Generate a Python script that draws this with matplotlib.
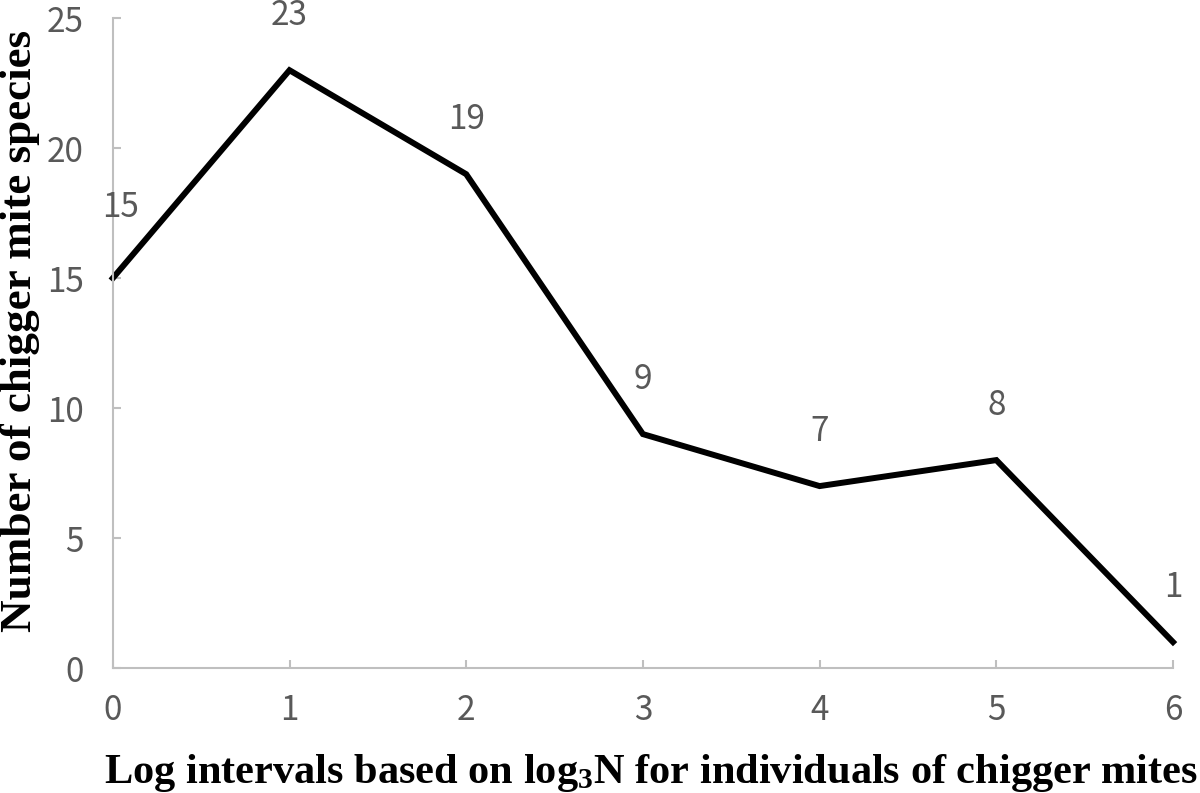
import matplotlib
matplotlib.use("Agg")
import matplotlib.pyplot as plt

# data
intervals = [0, 1, 2, 3, 4, 5, 6]
species = [15, 23, 19, 9, 7, 8, 1]
x_ticks = [0, 1, 2, 3, 4, 5, 6]
y_ticks = [0, 5, 10, 15, 20, 25]

x_label = r"Log intervals based on log$_{3}$N for individuals of chigger mites"
y_label = "Number of chigger mite species"

plt.rcParams["mathtext.fontset"] = "custom"
plt.rcParams["mathtext.rm"] = "Liberation Serif:bold"
plt.rcParams["mathtext.it"] = "Liberation Serif:bold"
plt.rcParams["mathtext.bf"] = "Liberation Serif:bold"

tick_font = ["Noto Sans CJK SC", "DejaVu Sans"]
grey = "#595959"
spine_grey = "#bfbfbf"

fig = plt.figure(figsize=(12, 7.93), dpi=100)
ax = fig.add_axes([0.094, 0.1576, 0.8835, 0.8194])

ax.plot(intervals, species, color="black", lw=4.3, clip_on=False,
        solid_joinstyle="miter")

# data labels above each point
for x, y in zip(intervals, species):
    dy = 71 if x == 0 else 55
    dx = 8 if x == 0 else 0
    ax.annotate(str(y), (x, y), xytext=(dx, dy), textcoords="offset pixels",
                ha="center", va="center", fontsize=24, color=grey,
                family=tick_font, annotation_clip=False)

ax.set_xlim(0, 6)
ax.set_ylim(0, 25)
ax.set_xticks(x_ticks)
ax.set_yticks(y_ticks)

for side in ["top", "right"]:
    ax.spines[side].set_visible(False)
for side in ["left", "bottom"]:
    ax.spines[side].set_color(spine_grey)
    ax.spines[side].set_linewidth(1.5)

ax.tick_params(axis="both", direction="in", length=6, width=1.5,
               color=spine_grey, labelcolor=grey, labelsize=24)
ax.tick_params(axis="y", pad=21)
ax.tick_params(axis="x", pad=18)
for lab in ax.get_xticklabels() + ax.get_yticklabels():
    lab.set_family(tick_font)

fig.text(651 / 1200, 1 - 773 / 793, x_label, ha="center", va="center",
         family="Liberation Serif", fontweight="bold", fontsize=30.5)
fig.text(20 / 1200, 1 - 331 / 793, y_label, ha="center", va="center",
         rotation=90, family="Liberation Serif", fontweight="bold",
         fontsize=32.5)

fig.savefig("out.png", dpi=100)
